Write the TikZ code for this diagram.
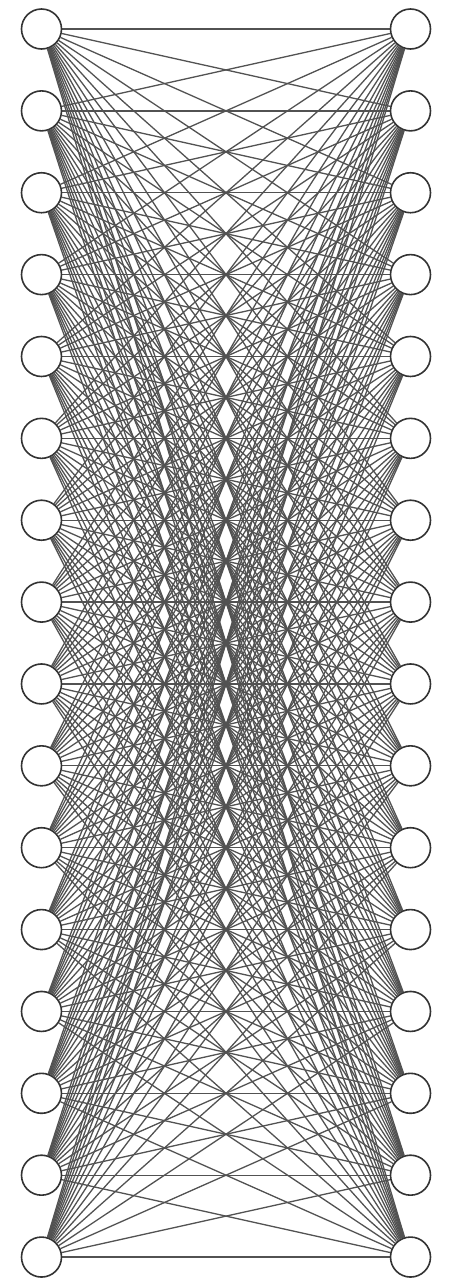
\documentclass[tikz,border=0pt]{standalone}
\usetikzlibrary{backgrounds}
\begin{document}
\begin{tikzpicture}[x=1pt,y=-1pt,
  vert/.style={circle,draw=black!80,line width=1.6pt,fill=white,minimum size=40pt,inner sep=0pt},
  edge/.style={draw=black!68,line width=1.3pt}]
\useasboundingbox (0,0) rectangle (449,1280);
\foreach \i in {0,...,15}{
  \node[vert] (L\i) at (41.5,{29+\i*81.87}) {};
  \node[vert] (R\i) at (410.5,{29+\i*81.87}) {};
}
\begin{scope}[on background layer]
\foreach \i in {0,...,15}{
  \foreach \j in {0,...,15}{
    \draw[edge] (L\i) -- (R\j);
  }
}
\end{scope}
\end{tikzpicture}
\end{document}
